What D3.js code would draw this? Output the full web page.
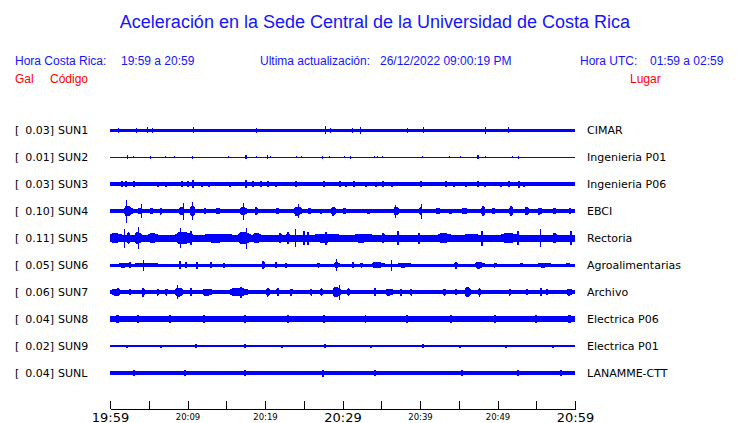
<!DOCTYPE html>
<html><head><meta charset="utf-8">
<script src="https://cdn.jsdelivr.net/npm/d3@7/dist/d3.min.js"></script>
<style>
body{margin:0;background:#fff;}
svg{display:block;}
</style></head>
<body>
<script>
// ---- data ----
const codes  = ["SUN1","SUN2","SUN3","SUN4","SUN5","SUN6","SUN7","SUN8","SUN9","SUNL"];
const galMax = ["0.03","0.01","0.03","0.10","0.11","0.05","0.06","0.04","0.02","0.04"];
const places = ["CIMAR","Ingenieria P01","Ingenieria P06","EBCI","Rectoria","Agroalimentarias","Archivo","Electrica P06","Electrica P01","LANAMME-CTT"];
// background amplitude (Gal) of each trace
const baseAmp = [0.015,0.005,0.018,0.018,0.035,0.015,0.017,0.03,0.009,0.02];
// events per trace: [minute after 19:59, half-amplitude (Gal), duration (min)]
const ev_SUN1 = [[1.08,0.025,0.15],[3.31,0.025,0.15],[4.73,0.03,0.15],[5.38,0.025,0.15],[10.75,0.03,0.15],[18.9,0.025,0.15],[27.7,0.04,0.15],[28.4,0.025,0.15],[31.2,0.025,0.15],[32.3,0.035,0.15],[38.3,0.025,0.15],[40.4,0.03,0.15],[48.4,0.035,0.15],[51.4,0.03,0.15]];
const ev_SUN2 = [[2.15,0.02,0.15],[3.0,0.012,0.12],[5.1,0.015,0.12],[7.1,0.012,0.12],[8.3,0.012,0.12],[10.6,0.015,0.12],[15.2,0.012,0.12],[17.4,0.02,0.3],[18.9,0.01,0.12],[20.3,0.02,0.15],[20.7,0.012,0.12],[24.0,0.012,0.12],[24.6,0.012,0.12],[27.4,0.015,0.12],[28.3,0.012,0.12],[30.2,0.012,0.12],[31.0,0.015,0.12],[34.0,0.012,0.12],[34.4,0.01,0.12],[35.1,0.01,0.12],[40.3,0.012,0.12],[43.8,0.01,0.12],[45.2,0.01,0.12],[47.4,0.02,0.3],[48.4,0.012,0.12],[51.9,0.01,0.12],[52.6,0.015,0.12]];
const ev_SUN3 = [[1.42,0.03,0.2],[1.94,0.03,0.2],[3.0,0.028,0.2],[4.17,0.022,0.2],[6.0,0.025,0.2],[7.1,0.025,0.2],[9.16,0.028,0.2],[9.9,0.03,0.2],[10.6,0.04,0.2],[11.8,0.025,0.2],[12.7,0.025,0.2],[13.8,0.022,0.2],[15.35,0.025,0.2],[16.5,0.022,0.2],[17.4,0.04,0.2],[18.3,0.028,0.2],[19.35,0.028,0.2],[20.4,0.03,0.5],[21.3,0.025,0.2],[22.8,0.022,0.2],[23.9,0.028,0.2],[26.2,0.022,0.2],[27.5,0.028,0.2],[29.5,0.028,0.2],[30.3,0.025,0.2],[31.4,0.028,0.2],[32.9,0.025,0.2],[34.2,0.025,0.2],[35.05,0.03,0.2],[36.3,0.025,0.2],[37.2,0.022,0.2],[40.2,0.03,0.4],[43.2,0.028,0.2],[44.3,0.025,0.2],[45.8,0.025,0.2],[47.4,0.03,0.3],[48.2,0.025,0.2],[50.3,0.025,0.2],[51.4,0.028,0.2],[52.6,0.035,0.2],[53.3,0.025,0.2],[58.3,0.022,0.2]];
const ev_SUN4 = [[2.4,0.05,1.3],[2.02,0.115,0.15],[3.8,0.03,0.6],[4.0,0.07,0.15],[5.4,0.03,0.5],[6.6,0.035,0.5],[9.3,0.04,0.8],[9.46,0.085,0.15],[10.7,0.05,0.8],[10.62,0.09,0.15],[12.3,0.03,0.6],[14.0,0.03,1.0],[17.3,0.04,1.1],[17.2,0.085,0.15],[18.9,0.04,0.5],[21.7,0.03,0.6],[24.3,0.045,1.3],[24.2,0.07,0.15],[25.8,0.03,0.8],[27.3,0.025,0.6],[28.9,0.045,0.8],[30.3,0.03,0.5],[33.5,0.025,1.0],[37.0,0.04,0.9],[36.8,0.065,0.15],[40.1,0.04,0.4],[40.1,0.075,0.15],[42.4,0.03,1.0],[44.1,0.025,1.0],[45.8,0.03,1.0],[48.2,0.05,0.6],[49.5,0.03,0.6],[51.8,0.05,0.6],[53.8,0.04,0.6],[55.5,0.035,0.8],[57.4,0.03,0.6],[59.4,0.03,0.6]];
const ev_SUN5 = [[0.75,0.05,1.5],[1.8,0.095,0.15],[2.4,0.06,0.4],[3.65,0.06,0.9],[3.66,0.11,0.15],[5.6,0.05,1.3],[9.6,0.06,2.3],[9.0,0.10,0.15],[10.3,0.07,0.3],[14.0,0.045,3.4],[17.4,0.06,1.7],[17.5,0.105,0.15],[19.0,0.05,1.1],[22.0,0.05,0.5],[23.0,0.06,0.5],[23.9,0.09,0.15],[24.9,0.07,0.2],[25.4,0.065,0.2],[28.0,0.045,3.0],[27.7,0.065,0.3],[32.7,0.045,2.2],[35.3,0.05,0.4],[37.0,0.07,0.2],[39.8,0.055,0.3],[43.2,0.05,1.7],[46.7,0.042,1.7],[47.9,0.075,0.3],[51.6,0.05,2.2],[52.5,0.07,0.2],[55.5,0.09,0.15],[57.4,0.05,0.6],[59.4,0.07,0.3]];
const ev_SUN6 = [[1.85,0.025,1.5],[2.4,0.03,0.2],[4.7,0.02,3.0],[4.3,0.055,0.15],[8.9,0.04,0.2],[9.7,0.03,0.3],[11.05,0.035,0.2],[12.9,0.03,0.3],[14.6,0.025,0.3],[19.8,0.04,0.5],[21.3,0.03,0.3],[22.6,0.025,0.3],[26.9,0.025,0.4],[29.3,0.03,0.8],[29.2,0.06,0.15],[31.2,0.03,0.3],[32.5,0.025,0.4],[34.6,0.03,1.7],[36.3,0.055,0.15],[38.0,0.025,1.7],[44.7,0.035,0.5],[47.7,0.035,1.3],[49.7,0.025,0.4],[53.1,0.02,0.4],[56.1,0.025,1.7],[59.1,0.02,0.5]];
const ev_SUN7 = [[0.85,0.035,1.3],[0.86,0.04,0.2],[2.6,0.03,0.4],[4.3,0.045,0.5],[6.2,0.035,0.4],[7.3,0.035,0.4],[9.0,0.045,1.3],[8.7,0.07,0.15],[10.5,0.04,0.4],[12.7,0.035,1.7],[16.8,0.04,3.0],[16.8,0.055,0.2],[20.4,0.045,0.5],[21.7,0.04,0.5],[23.4,0.035,0.5],[26.0,0.035,0.4],[27.3,0.04,0.4],[29.3,0.05,1.3],[29.5,0.075,0.15],[30.8,0.04,0.4],[34.0,0.04,0.3],[36.1,0.035,1.3],[37.6,0.035,0.4],[38.9,0.035,0.4],[43.2,0.035,0.5],[44.7,0.03,0.4],[46.2,0.05,0.9],[47.7,0.045,0.4],[51.6,0.035,0.4],[53.8,0.03,0.4],[55.5,0.04,0.3],[56.3,0.03,0.3],[59.35,0.035,0.9]];
const ev_SUN8 = [[1.0,0.038,0.6],[3.5,0.04,0.3],[7.8,0.038,0.5],[12.0,0.04,0.3],[17.5,0.04,0.4],[23.0,0.038,0.5],[27.5,0.04,0.3],[33.0,0.038,0.4],[38.2,0.04,0.3],[44.0,0.038,0.5],[49.5,0.04,0.3],[55.0,0.038,0.4],[59.3,0.04,0.5]];
const ev_SUN9 = [[2.0,0.015,0.3],[6.5,0.015,0.3],[11.0,0.018,0.2],[17.3,0.018,0.2],[22.0,0.015,0.3],[27.6,0.02,0.2],[33.5,0.015,0.3],[40.2,0.018,0.2],[45.0,0.015,0.3],[51.0,0.015,0.3],[57.0,0.015,0.3]];
const ev_SUNL = [[3.0,0.028,0.3],[9.5,0.028,0.3],[17.3,0.03,0.2],[27.3,0.035,0.2],[34.0,0.028,0.3],[45.5,0.03,0.4],[52.5,0.028,0.3],[58.0,0.028,0.3]];
const events = [ev_SUN1,ev_SUN2,ev_SUN3,ev_SUN4,ev_SUN5,ev_SUN6,ev_SUN7,ev_SUN8,ev_SUN9,ev_SUNL];
const tickMinutes = [0,5,10,15,20,25,30,35,40,45,50,55,60];
const tickLabels  = ["19:59","","20:09","","20:19","","20:29","","20:39","","20:49","","20:59"];
const bigTicks = ["19:59","20:29","20:59"];

// ---- drawing ----
const W = 740, H = 423;
const svg = d3.select("body").append("svg").attr("width", W).attr("height", H);
const BLUE = "#0000ff", RED = "#ff0000", TBLUE = "#1414ff";
const hdrFont = "'Liberation Sans', Arial, Helvetica, sans-serif";
const lblFont = "'DejaVu Sans', Verdana, sans-serif";

svg.append("text").attr("x", 375).attr("y", 28).attr("text-anchor", "middle")
  .attr("font-family", hdrFont).attr("font-size", 18).attr("fill", TBLUE)
  .text("Aceleración en la Sede Central de la Universidad de Costa Rica");

const hdr = [
  {x: 15, t: "Hora Costa Rica:", c: TBLUE, y: 65},
  {x: 121, t: "19:59 a 20:59", c: TBLUE, y: 65},
  {x: 260, t: "Ultima actualización:", c: TBLUE, y: 65},
  {x: 380, t: "26/12/2022 09:00:19 PM", c: TBLUE, y: 65},
  {x: 580, t: "Hora UTC:", c: TBLUE, y: 65},
  {x: 650, t: "01:59 a 02:59", c: TBLUE, y: 65},
  {x: 15, t: "Gal", c: RED, y: 83},
  {x: 50, t: "Código", c: RED, y: 83},
  {x: 630, t: "Lugar", c: RED, y: 83}
];
svg.selectAll("text.hdr").data(hdr).join("text").attr("class", "hdr")
  .attr("x", d => d.x).attr("y", d => d.y)
  .attr("font-family", hdrFont).attr("font-size", 12).attr("fill", d => d.c)
  .text(d => d.t);

const x = d3.scaleLinear().domain([0, 60]).range([110, 575]);
const y = d3.scalePoint().domain(codes).range([130, 373]);
const amp = d3.scaleLinear().domain([0, 0.1]).range([0, 10]);

const rows = svg.append("g").selectAll("g").data(codes).join("g")
  .attr("transform", d => `translate(0,${y(d)})`);

rows.append("text").attr("x", 15).attr("y", 4).attr("font-family", lblFont).attr("font-size", 11).text("[");
rows.append("text").attr("x", 54).attr("y", 4).attr("text-anchor", "end")
  .attr("font-family", lblFont).attr("font-size", 11).text((d, i) => galMax[i] + "]");
rows.append("text").attr("x", 58).attr("y", 4).attr("font-family", lblFont).attr("font-size", 11).text(d => d);
rows.append("text").attr("x", 587).attr("y", 4).attr("font-family", lblFont).attr("font-size", 11).text((d, i) => places[i]);

// burst envelope: rises to full amplitude, holds, decays
function burstPath(e, b) {
  const x0 = x(e[0] - e[2] / 2), x1 = x(e[0] + e[2] / 2);
  const w = x1 - x0, a = amp(e[1]);
  if (w < 2.5) {
    const xa = Math.round(x(e[0])) - 0.5, xb = xa + Math.max(1, Math.round(w));
    return `M${xa},${-a}H${xb}V${a}H${xa}Z`;
  }
  const p = [[x0, -b], [x0 + w * 0.2, -a], [x0 + w * 0.55, -a], [x1, -b],
             [x1, b], [x0 + w * 0.55, a], [x0 + w * 0.2, a], [x0, b]];
  return "M" + p.map(q => q.join(",")).join("L") + "Z";
}

rows.each(function(d, i) {
  const g = d3.select(this).append("g").attr("fill", BLUE);
  const b = Math.max(amp(baseAmp[i]), 0.5);
  g.append("rect").attr("shape-rendering", "crispEdges")
    .attr("x", x(0)).attr("width", x(60) - x(0))
    .attr("y", -b).attr("height", 2 * b);
  g.selectAll("path.ev").data(events[i]).join("path").attr("class", "ev")
    .attr("shape-rendering", "crispEdges")
    .attr("d", e => burstPath(e, b));
});

// time axis
const axis = d3.axisBottom(x).tickValues(tickMinutes).tickSize(-8).tickSizeOuter(0)
  .tickFormat((d, i) => tickLabels[i]);
const ga = svg.append("g").attr("transform", "translate(0,409)").call(axis);
ga.select(".domain").attr("stroke", "#000").attr("shape-rendering", "crispEdges");
ga.selectAll(".tick line").attr("stroke", "#000").attr("shape-rendering", "crispEdges");
const isBig = d => bigTicks.includes(tickLabels[tickMinutes.indexOf(d)]);
ga.selectAll(".tick text")
  .attr("font-family", lblFont).attr("fill", "#000")
  .attr("dy", null)
  .attr("y", d => isBig(d) ? 12.5 : 10.5)
  .attr("font-size", d => isBig(d) ? 13 : 8.5);
</script>
</body></html>
